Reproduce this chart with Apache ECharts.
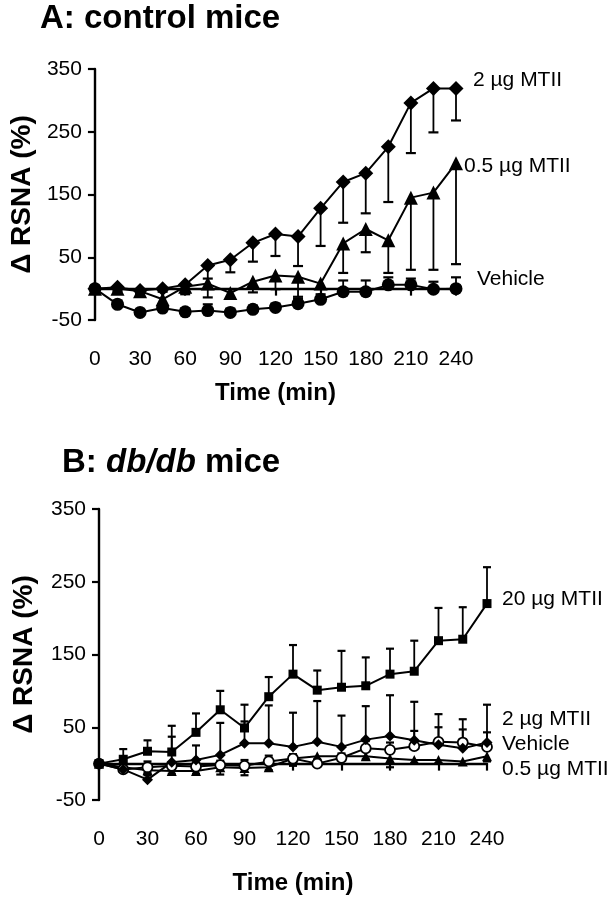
<!DOCTYPE html>
<html><head><meta charset="utf-8">
<script src="https://cdn.jsdelivr.net/npm/echarts@6/dist/echarts.min.js"></script>
<style>html,body{margin:0;padding:0;background:#fff}#c{width:616px;height:900px}</style>
</head><body><div id="c"></div>
<script>
// Time points (min)
const times = [0,15,30,45,60,75,90,105,120,135,150,165,180,195,210,225,240];

// Panel A: control mice
const a2 = [0,2,-3,0,6,37,46,73,87,83,128,170,184,226,296,319,319];
const a2Err = [3,3,4,5,15,21,20,30,35,47,60,65,64,88,80,70,51];          // downward
const a05 = [0,0,-4,-17,3,8,-7,11,21,19,8,72,95,77,145,153,200];
const a05Err = [3,4,5,8,10,22,8,17,22,32,8,47,37,52,115,123,161];        // downward
const aVeh = [0,-25,-38,-31,-37,-35,-38,-33,-30,-24,-17,-5,-5,6,6,-1,0];
const aVehErr = [0,6,4,5,5,10,6,6,6,8,8,18,18,12,10,12,18];             // upward

// Panel B: db/db mice
const b20 = [0,6,17,16,43,74,49,92,123,101,105,107,123,127,169,171,220];
const b20Err = [0,14,15,36,26,26,32,27,40,27,50,39,35,42,45,44,50];     // upward
const b2 = [0,-8,-22,2,5,12,28,28,23,30,23,33,38,32,26,21,29];
const b2Err = [0,8,6,35,20,44,30,52,47,56,43,46,56,53,42,40,52];        // upward
const bVeh = [0,-8,-5,-3,-4,-2,-3,3,7,0,8,21,19,24,30,29,23];
const bVehErr = [0,5,8,4,5,6,8,8,6,5,6,10,10,21,20,18,20];              // upward
const b05 = [0,-5,-9,-10,-10,-5,-6,-5,7,10,10,10,7,5,5,3,10];
const b05Err = [0,4,4,4,4,10,10,4,10,4,4,4,12,4,4,4,7];                 // downward

const yTicks = [-50,50,150,250,350];
const xTicks = [0,30,60,90,120,150,180,210,240];

const tickFont = "'Liberation Sans Narrow','Arial Narrow','Liberation Sans',Arial,sans-serif";
const mainFont = "'Liberation Sans',Arial,Helvetica,sans-serif";

function pts(vals){ return times.map((t,i)=>[t, vals[i]]); }

function errSeries(g, vals, errs, dir, capW){
  const data = [];
  times.forEach((t,i)=>{ if (errs[i] > 0) data.push([t, vals[i], vals[i] + dir*errs[i]]); });
  return {
    type:'custom', xAxisIndex:g, yAxisIndex:g, z:1, silent:true,
    renderItem(params, api){
      const p0 = api.coord([api.value(0), api.value(1)]);
      const p1 = api.coord([api.value(0), api.value(2)]);
      return {type:'group', children:[
        {type:'line', shape:{x1:p0[0],y1:p0[1],x2:p1[0],y2:p1[1]}, style:{stroke:'#000', lineWidth:1.8}},
        {type:'line', shape:{x1:p1[0]-capW/2,y1:p1[1],x2:p1[0]+capW/2,y2:p1[1]}, style:{stroke:'#000', lineWidth:2.2}}
      ]};
    },
    encode:{x:0, y:[1,2]},
    data
  };
}

function lineSeries(g, vals, symbol, size, hollow){
  return {
    type:'line', xAxisIndex:g, yAxisIndex:g, z:3, silent:true,
    data: pts(vals), symbol, symbolSize:size, showAllSymbol:true,
    lineStyle:{color:'#000', width:2},
    itemStyle: hollow ? {color:'#fff', borderColor:'#000', borderWidth:1.8} : {color:'#000', borderWidth:0},
    animation:false
  };
}

function xAx(g, gap){
  return {
    gridIndex:g, type:'value', min:0, max:240, interval:30,
    name:'Time (min)', nameLocation:'middle', nameGap:gap,
    nameTextStyle:{fontFamily:mainFont, fontWeight:'bold', fontSize:24, color:'#000'},
    axisLine:{lineStyle:{color:'#000', width:2.4}},
    axisTick:{show:true, inside:false, length:7, lineStyle:{color:'#000', width:2.2}},
    axisLabel:{fontFamily:tickFont, fontSize:21, color:'#000', margin:29,
      formatter:v=>xTicks.includes(v)?String(v):''},
    splitLine:{show:false}
  };
}
function yAx(g, gap){
  return {
    gridIndex:g, type:'value', min:-50, max:350, interval:100,
    name:'\u0394 RSNA (%)', nameLocation:'middle', nameRotate:90, nameGap:gap,
    nameTextStyle:{fontFamily:mainFont, fontWeight:'bold', fontSize:28, color:'#000'},
    axisLine:{show:true, lineStyle:{color:'#000', width:2.4}},
    axisTick:{show:true, inside:false, length:7, lineStyle:{color:'#000', width:2.2}},
    axisLabel:{fontFamily:tickFont, fontSize:21, color:'#000', margin:13,
      formatter:v=>yTicks.includes(v)?String(v):''},
    splitLine:{show:false}
  };
}

const chart = echarts.init(document.getElementById('c'), null, {renderer:'canvas'});
const lf = "21px 'Liberation Sans',Arial,sans-serif";

chart.setOption({
  animation:false,
  backgroundColor:'#fff',
  grid:[
    {left:88, top:69, width:368, height:251},
    {left:99, top:509, width:388, height:291}
  ],
  xAxis:[xAx(0, 61), xAx(1, 71)],
  yAxis:[yAx(0, 53), yAx(1, 61)],
  graphic:[
    {type:'text', left:40, top:2, style:{text:'A: control mice', font:"bold 33px 'Liberation Sans',Arial,sans-serif", fill:'#000'}},
    {type:'text', left:62, top:446, style:{
      text:'{a|B: }{b|db/db}{a| mice}',
      rich:{
        a:{font:"bold 33px 'Liberation Sans',Arial,sans-serif", fill:'#000'},
        b:{font:"italic bold 33px 'Liberation Sans',Arial,sans-serif", fill:'#000'}
      }}},
    {type:'text', left:473, top:70, style:{text:'2 \u00b5g MTII', font:lf, fill:'#000'}},
    {type:'text', left:464, top:156, style:{text:'0.5 \u00b5g MTII', font:lf, fill:'#000'}},
    {type:'text', left:477, top:269, style:{text:'Vehicle', font:lf, fill:'#000'}},
    {type:'text', left:502, top:589, style:{text:'20 \u00b5g MTII', font:lf, fill:'#000'}},
    {type:'text', left:502, top:709, style:{text:'2 \u00b5g MTII', font:lf, fill:'#000'}},
    {type:'text', left:502, top:734, style:{text:'Vehicle', font:lf, fill:'#000'}},
    {type:'text', left:502, top:759, style:{text:'0.5 \u00b5g MTII', font:lf, fill:'#000'}}
  ],
  series:[
    errSeries(0, a2, a2Err, -1, 10),
    errSeries(0, a05, a05Err, -1, 10),
    errSeries(0, aVeh, aVehErr, 1, 10),
    lineSeries(0, aVeh, 'circle', 13, false),
    lineSeries(0, a05, 'triangle', 14, false),
    lineSeries(0, a2, 'diamond', 15, false),

    errSeries(1, b20, b20Err, 1, 8),
    errSeries(1, b2, b2Err, 1, 8),
    errSeries(1, bVeh, bVehErr, 1, 8),
    errSeries(1, b05, b05Err, -1, 8),
    lineSeries(1, b05, 'triangle', 10, false),
    lineSeries(1, bVeh, 'circle', 10, true),
    lineSeries(1, b2, 'diamond', 11, false),
    lineSeries(1, b20, 'rect', 9, false)
  ]
});
</script>
</body></html>
